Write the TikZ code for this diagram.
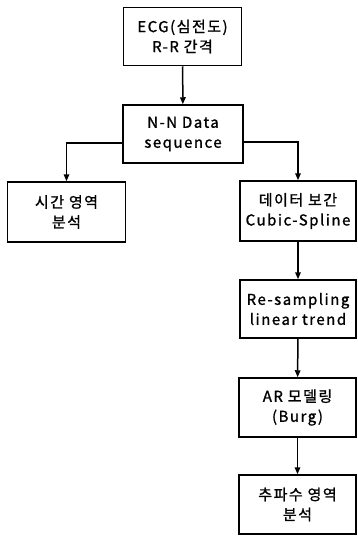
\documentclass[tikz,border=0pt]{standalone}
\usepackage{fontspec}
\setmainfont{Noto Sans CJK KR}[FakeBold=1.2,LetterSpace=10]
\usetikzlibrary{arrows.meta}
\begin{document}
\begin{tikzpicture}[x=1pt,y=-1pt,
  box/.style={draw, line width=1.5pt, minimum width=118pt, minimum height=58pt,
    align=center, inner sep=2pt, font=\fontsize{15}{20}\selectfont},
  conn/.style={line width=1.5pt, -{Triangle[length=7pt,width=5.5pt]}}]
\useasboundingbox (0,0) rectangle (358,536);
\node[box] (n1) at (182.5,36.5) {ECG(심전도)\\R-R 간격};
\node[box, minimum width=120pt] (n2) at (183,134) {N-N Data\\sequence};
\node[box, minimum height=60pt] (n3) at (66.5,212) {시간 영역\\분석};
\node[box, minimum width=116pt, minimum height=60pt] (n4) at (298,211) {데이터 보간\\Cubic-Spline};
\node[box, minimum width=116pt] (n5) at (298,309) {Re-sampling\\linear trend};
\node[box, minimum width=117pt, minimum height=59pt] (n6) at (297.5,407.5) {AR 모델링\\(Burg)};
\node[box, minimum width=117pt, minimum height=59pt] (n7) at (297.5,504.5) {추파수 영역\\분석};
\draw[conn] (n1) -- (n2);
\draw[conn] ([yshift=-9pt]n2.west) -| (n3.north);
\draw[conn] ([yshift=-8pt]n2.east) -| (n4.north);
\draw[conn] (n4) -- (n5);
\draw[conn] (n5) -- (n6);
\draw[conn] (n6) -- (n7);
\end{tikzpicture}
\end{document}
